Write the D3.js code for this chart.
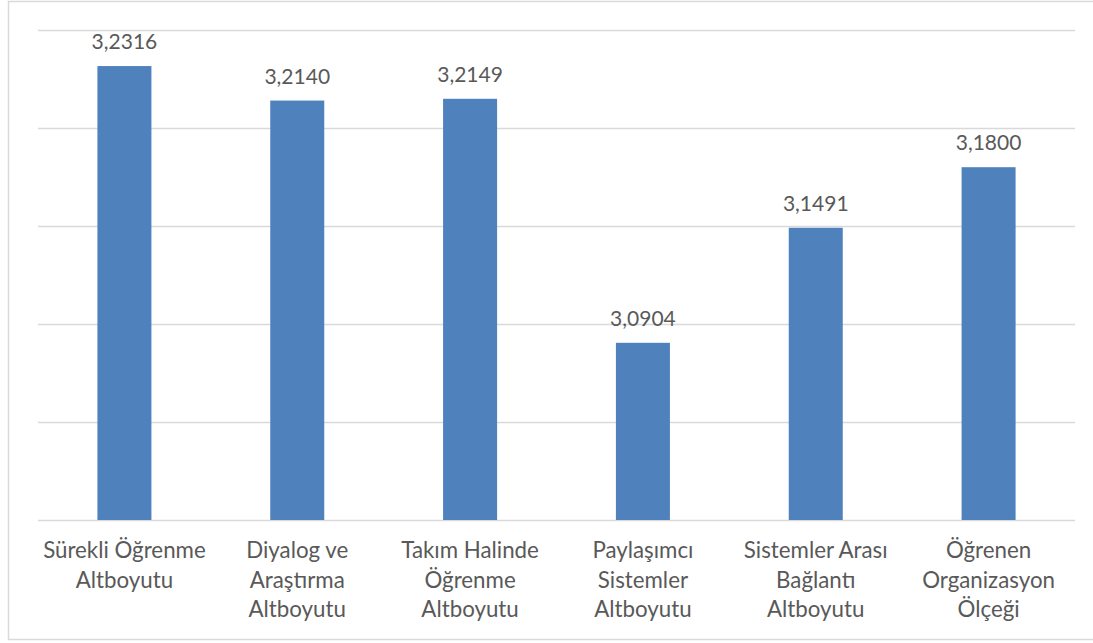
<!DOCTYPE html>
<html>
<head>
<meta charset="utf-8">
<script src="https://cdn.jsdelivr.net/npm/d3@7"></script>
<style>
  html, body { margin: 0; padding: 0; background: #fff; }
  svg { display: block; }
  text { font-family: Lato, "Open Sans", sans-serif; fill: #595959; }
</style>
</head>
<body>
<svg id="chart" width="1093" height="643"></svg>
<script>
// Category labels, split into the lines they are shown on
const categories = [
  ["Sürekli Öğrenme", "Altboyutu"],
  ["Diyalog ve", "Araştırma", "Altboyutu"],
  ["Takım Halinde", "Öğrenme", "Altboyutu"],
  ["Paylaşımcı", "Sistemler", "Altboyutu"],
  ["Sistemler Arası", "Bağlantı", "Altboyutu"],
  ["Öğrenen", "Organizasyon", "Ölçeği"]
];
const values = [3.2316, 3.2140, 3.2149, 3.0904, 3.1491, 3.1800];
const yTicks = [3.00, 3.05, 3.10, 3.15, 3.20, 3.25];

const svg = d3.select("#chart");
const margin = { left: 38, right: 18, top: 30, bottom: 123 };
const W = 1093, H = 643;

// outer frame
svg.append("rect")
  .attr("x", 8.5).attr("y", 1.5)
  .attr("width", W - 8.5 + 5).attr("height", 638)
  .attr("fill", "none").attr("stroke", "#D9D9D9").attr("stroke-width", 1.5);

const x = d3.scaleBand()
  .domain(d3.range(categories.length))
  .range([margin.left, W - margin.right])
  .padding(0);

const y = d3.scaleLinear()
  .domain([3.0, 3.25])
  .range([H - margin.bottom, margin.top]);

// horizontal gridlines
svg.append("g")
  .selectAll("line")
  .data(yTicks)
  .join("line")
  .attr("x1", margin.left).attr("x2", W - margin.right)
  .attr("y1", d => Math.round(y(d)) + 0.5).attr("y2", d => Math.round(y(d)) + 0.5)
  .attr("stroke", "#D9D9D9").attr("stroke-width", 1.5);

const barW = x.bandwidth() * 0.3125;

svg.append("g")
  .selectAll("rect")
  .data(values)
  .join("rect")
  .attr("x", (d, i) => x(i) + (x.bandwidth() - barW) / 2)
  .attr("y", d => y(d))
  .attr("width", barW)
  .attr("height", d => y(3.0) - y(d))
  .attr("fill", "#4F81BD");

// value labels above bars
const fmt = d => d3.format(".4f")(d).replace(".", ",");
svg.append("g")
  .selectAll("text")
  .data(values)
  .join("text")
  .attr("x", (d, i) => x(i) + x.bandwidth() / 2)
  .attr("y", d => y(d) - 17)
  .attr("text-anchor", "middle")
  .style("font-size", "21px")
  .text(fmt);

// category labels under the baseline
const lab = svg.append("g")
  .selectAll("text")
  .data(categories)
  .join("text")
  .attr("x", (d, i) => x(i) + x.bandwidth() / 2)
  .attr("y", 558)
  .attr("text-anchor", "middle")
  .style("font-size", "22.3px");
lab.selectAll("tspan")
  .data(d => d)
  .join("tspan")
  .attr("x", function () { return this.parentNode.getAttribute("x"); })
  .attr("dy", (d, i) => i === 0 ? 0 : 29.5)
  .text(d => d);
</script>
</body>
</html>
